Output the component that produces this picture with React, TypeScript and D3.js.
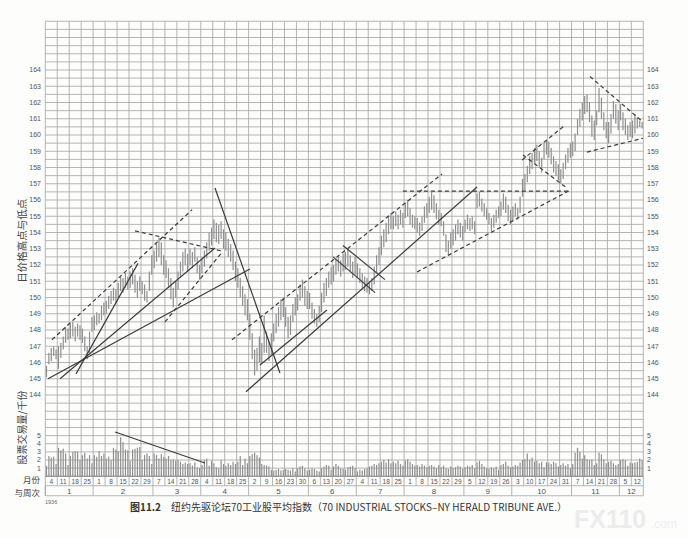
import { scaleLinear } from "d3";

// Weeks (Saturday dates) and months, 1936
const weekLabels = [
  "4", "11", "18", "25",
  "1", "8", "15", "22", "29",
  "7", "14", "21", "28",
  "4", "11", "18", "25",
  "2", "9", "16", "23", "30",
  "6", "13", "20", "27",
  "4", "11", "18", "25",
  "1", "8", "15", "22", "29",
  "5", "12", "19", "26",
  "3", "10", "17", "24", "31",
  "7", "14", "21", "28",
  "5", "12",
];
const monthLabels = ["1", "2", "3", "4", "5", "6", "7", "8", "9", "10", "11", "12"];
const weeksPerMonth = [4, 5, 4, 4, 5, 4, 4, 5, 4, 5, 4, 2];

const priceTicks = [144, 145, 146, 147, 148, 149, 150, 151, 152, 153, 154, 155, 156, 157, 158, 159, 160, 161, 162, 163, 164];
const volumeTicks = [1, 2, 3, 4, 5];

// daily highs / lows, five bars per week
const highs = [
  145.8, 146.6, 146.9, 147.0, 146.8,
  147.0, 147.2, 147.6, 148.2, 148.1,
  148.4, 148.5, 148.2, 148.4, 148.3,
  148.1, 147.6, 147.0, 147.9, 148.8,
  148.9, 149.1, 149.0, 149.5, 149.7,
  149.8, 150.1, 150.4, 150.6, 150.5,
  150.9, 151.3, 151.2, 151.5, 151.3,
  151.6, 151.8, 151.4, 151.0, 151.3,
  151.0, 150.8, 150.4, 151.6, 152.6,
  152.9, 153.3, 153.7, 153.4, 152.6,
  152.3, 151.8, 151.2, 150.6, 151.0,
  151.6, 152.2, 152.8, 153.0, 152.7,
  153.0, 152.8, 153.1, 152.5, 152.0,
  152.5, 152.9, 153.4, 154.0, 154.3,
  154.8, 154.6, 154.5, 154.7, 154.2,
  154.0, 153.6, 153.3, 152.9, 152.2,
  151.8, 151.2, 150.7, 150.2, 149.9,
  149.0, 147.8, 146.8, 146.9, 147.6,
  147.2, 148.9, 147.9, 147.3, 147.8,
  148.4, 149.0, 149.4, 149.9, 150.0,
  149.4, 148.8, 148.9, 149.6, 150.0,
  150.2, 150.8, 151.1, 150.7, 150.4,
  150.3, 149.7, 149.3, 149.0, 149.5,
  150.3, 150.9, 151.2, 151.6, 151.9,
  152.0, 152.4, 152.6, 152.3, 152.7,
  152.8, 153.0, 152.6, 152.2, 152.5,
  152.1, 151.8, 151.5, 151.3, 151.2,
  151.0, 151.2, 151.9, 152.6, 153.1,
  153.8, 154.2, 154.6, 155.0, 155.2,
  155.0, 155.3, 155.1, 155.4, 155.2,
  155.8, 156.0, 155.5, 155.1, 155.0,
  154.9, 154.6, 155.0, 155.6, 155.8,
  156.2, 156.5, 156.3, 155.8, 155.4,
  155.2, 154.7, 153.9, 153.5, 154.0,
  154.2, 154.5, 154.8, 154.6, 154.4,
  154.8, 155.1, 154.9, 155.0, 154.7,
  156.4, 156.5, 156.1, 155.8, 155.5,
  155.2, 154.9, 155.1, 155.4, 155.6,
  155.9, 156.4, 156.2, 155.7, 155.4,
  155.6, 155.8, 155.5, 156.2, 157.3,
  157.6, 158.1, 158.7, 158.9, 159.2,
  159.4, 159.0, 158.6, 159.5, 159.7,
  159.6, 159.2, 158.7, 158.4, 158.2,
  157.9, 158.3, 158.8, 159.2, 159.5,
  159.6, 160.1, 161.0, 161.6, 162.0,
  162.4, 162.5, 162.0, 161.2, 160.9,
  161.5, 162.9, 162.3, 161.4, 160.8,
  160.8, 161.3, 162.1, 161.9, 161.5,
  161.9, 161.4, 161.0, 160.6, 160.8,
  160.9, 161.3, 161.1, 160.9, 160.8,
];
const lows = [
  145.1, 145.9, 146.1, 146.4, 146.2,
  145.6, 146.3, 146.8, 147.2, 147.4,
  147.5, 147.6, 147.3, 147.6, 147.4,
  147.2, 146.7, 146.2, 146.6, 147.9,
  148.0, 148.3, 148.4, 148.6, 148.9,
  149.0, 149.3, 149.6, 149.8, 149.7,
  150.0, 150.4, 150.3, 150.6, 150.5,
  150.6, 150.8, 150.3, 150.0, 150.4,
  150.2, 149.8, 149.7, 150.4, 151.4,
  151.8, 152.2, 152.5, 152.0, 151.4,
  151.2, 150.6, 149.9, 149.4, 150.0,
  150.5, 151.2, 151.6, 152.0, 151.6,
  152.0, 151.8, 152.2, 151.5, 151.1,
  151.5, 151.9, 152.4, 152.9, 153.2,
  153.6, 153.4, 153.3, 153.6, 153.0,
  152.9, 152.5, 152.2, 151.7, 151.0,
  150.6, 150.0, 149.5, 148.9, 148.6,
  147.4, 146.2, 145.2, 145.5, 146.0,
  146.0, 146.6, 146.6, 146.1, 146.5,
  147.3, 147.8, 148.2, 148.6, 148.8,
  148.2, 147.5, 147.7, 148.5, 148.9,
  149.2, 149.8, 150.0, 149.5, 149.3,
  149.3, 148.7, 148.4, 148.2, 148.5,
  149.1, 149.7, 150.1, 150.6, 150.8,
  151.0, 151.4, 151.6, 151.3, 151.6,
  151.7, 151.9, 151.6, 151.2, 151.4,
  151.2, 150.9, 150.6, 150.4, 150.3,
  150.2, 150.4, 150.8, 151.5, 152.0,
  152.6, 153.1, 153.4, 153.9, 154.2,
  154.2, 154.4, 154.2, 154.5, 154.3,
  154.9, 155.0, 154.5, 154.3, 154.2,
  154.0, 153.8, 154.1, 154.6, 154.9,
  155.2, 155.4, 155.2, 154.8, 154.5,
  154.4, 153.8, 152.8, 152.6, 153.0,
  153.2, 153.5, 153.9, 153.7, 153.5,
  154.0, 154.2, 154.1, 154.2, 153.9,
  155.5, 155.6, 155.3, 155.0, 154.8,
  154.5, 154.1, 154.3, 154.6, 154.9,
  155.0, 155.4, 155.2, 154.7, 154.5,
  154.7, 155.0, 154.8, 155.2, 156.2,
  156.6, 157.1, 157.6, 157.9, 158.3,
  158.4, 158.0, 157.7, 158.5, 158.8,
  158.6, 158.2, 157.7, 157.5, 157.2,
  157.0, 157.3, 157.9, 158.3, 158.6,
  158.7, 159.0, 160.0, 160.5, 160.9,
  161.3, 161.4, 160.8, 159.9, 159.7,
  160.6, 161.4, 161.0, 160.3, 159.8,
  159.5, 160.1, 161.0, 160.7, 160.3,
  160.9, 160.3, 160.0, 159.7, 159.9,
  159.8, 160.1, 160.4, 160.5, 160.4,
];
// daily volume, millions of shares
const volumes = [
  1.3, 2.5, 2.3, 2.4, 1.5,
  3.5, 3.2, 3.4, 2.8, 1.4,
  2.5, 3.0, 3.1, 3.0, 2.0,
  2.6, 2.9, 2.2, 2.6, 1.6,
  2.6, 2.4, 3.1, 2.5, 2.8,
  2.2, 2.4, 2.0, 3.5, 3.3,
  3.1, 4.8, 4.2, 3.3, 3.2,
  1.9, 3.3, 3.4, 3.5, 3.6,
  2.0, 2.6, 2.8, 2.5, 1.5,
  2.8, 2.6, 2.2, 2.7, 2.4,
  2.2, 2.5, 2.0, 2.1, 1.9,
  2.0, 1.8, 1.5, 1.7, 1.5,
  1.6, 1.3, 1.7, 1.1, 1.0,
  1.4, 2.0, 2.2, 1.3, 1.9,
  1.6, 1.1, 1.0, 2.0, 1.5,
  1.3, 1.6, 1.4, 1.8, 1.5,
  1.8, 2.5, 1.4, 2.2, 1.6,
  2.5, 2.7, 2.9, 2.6, 2.3,
  1.5, 1.4, 1.3, 1.2, 0.8,
  0.7, 0.8, 0.9, 0.7, 0.8,
  0.9, 0.8, 0.7, 1.0, 0.6,
  1.0, 1.2, 1.3, 1.0, 0.7,
  0.8, 1.0, 0.9, 0.7, 0.6,
  1.0, 1.2, 1.4, 1.3, 0.8,
  1.2, 1.5, 1.3, 1.0, 0.9,
  0.8, 1.1, 1.2, 1.3, 1.0,
  0.6, 0.8, 0.7, 0.9, 1.0,
  1.2, 1.3, 1.5, 1.4, 1.6,
  1.8, 2.0, 1.7, 2.1, 1.6,
  1.8, 1.6, 1.9, 1.5, 1.3,
  1.9, 2.1, 1.8, 1.5, 1.3,
  1.4, 1.2, 1.5, 1.3, 1.1,
  1.3, 1.4, 1.2, 1.0, 1.4,
  1.1, 1.3, 1.0, 0.9, 1.2,
  1.0, 1.1, 1.3, 1.2, 0.9,
  1.1, 1.3, 1.2, 1.4, 1.0,
  1.7, 1.9, 1.5, 1.2, 1.0,
  0.9, 1.1, 1.0, 1.2, 0.8,
  1.4, 1.5, 1.8, 1.3, 1.1,
  1.2, 1.4, 1.3, 1.7, 2.0,
  2.1, 2.8, 2.0, 2.3, 1.8,
  1.9, 1.6, 1.8, 1.1, 1.7,
  1.7, 1.5, 1.8, 1.6, 1.2,
  1.4, 1.6, 1.3, 1.5, 1.0,
  1.5, 2.9, 3.5, 3.0, 2.2,
  2.6, 2.1, 2.0, 2.1, 1.4,
  1.6, 2.9, 2.7, 2.1, 1.6,
  1.8, 1.9, 1.6, 1.4, 1.5,
  2.0, 2.1, 2.0, 1.3, 1.7,
  1.6, 1.7, 1.8, 2.2, 2.0,
];

// trend lines: [week position, price] -> [week position, price]
const solidLines = [
  [0.23, 145.0, 17.11, 151.75],
  [1.23, 145.0, 14.19, 153.05],
  [2.57, 145.3, 7.75, 152.1],
  [14.19, 156.74, 19.62, 145.35],
  [16.78, 144.2, 36.1, 156.8],
  [17.95, 145.85, 23.55, 149.23],
  [24.06, 152.5, 27.57, 150.3],
  [24.89, 153.2, 28.4, 151.1],
];
const dashedLines = [
  [0.56, 147.4, 12.27, 155.4],
  [7.5, 154.1, 14.77, 152.86],
  [10.01, 148.5, 14.69, 152.7],
  [15.61, 147.4, 33.17, 157.6],
  [29.9, 156.55, 43.87, 156.55],
  [31.08, 151.57, 43.87, 156.6],
  [39.86, 158.46, 43.45, 160.6],
  [39.94, 158.77, 43.5, 156.8],
  [45.54, 163.6, 49.97, 160.8],
  [45.29, 158.95, 49.97, 159.8],
];
// volume trend line: [week position, volume] -> [week position, volume]
const volumeLine = [5.84, 5.45, 13.35, 1.63];

const W = 688;
const H = 538;
const BARS_PER_WEEK = 5;

export default function App() {
  const nWeeks = weekLabels.length;
  const x = scaleLinear().domain([0, nWeeks]).range([45.3, 643.3]);
  const y = scaleLinear().domain([139, 167]).range([476.25, 21.25]);
  const yv = (v: number) => y(139 + v * 0.5);

  const top = y(167);
  const bottom = y(139);
  const rowMid = bottom + 9.5;
  const rowEnd = bottom + 19.5;

  const hGrid: number[] = [];
  for (let p = 139; p <= 167.001; p += 0.5) hGrid.push(p);

  let acc = 0;
  const monthStarts = weeksPerMonth.map((n) => {
    const s = acc;
    acc += n;
    return s;
  });

  const grid = "#a3a3a3";
  const ink = "#3c3c3c";
  const label = "#555";
  const sans = "'Liberation Sans', Arial, sans-serif";
  const cjk = "'Noto Sans CJK SC', 'Noto Sans', sans-serif";

  return (
    <svg
      width={W}
      height={H}
      style={{ position: "absolute", left: 0, top: 0, background: "#fdfdfc" }}
    >
      {/* grid */}
      {hGrid.map((p, i) => (
        <line key={"h" + i} x1={x(0)} x2={x(nWeeks)} y1={y(p)} y2={y(p)} stroke={grid} strokeWidth={0.8} />
      ))}
      {weekLabels.map((_, i) => (
        <line key={"v" + i} x1={x(i)} x2={x(i)} y1={top} y2={i === 0 ? rowEnd : rowMid} stroke={grid} strokeWidth={0.8} />
      ))}
      <line x1={x(nWeeks)} x2={x(nWeeks)} y1={top} y2={rowEnd} stroke={grid} strokeWidth={0.8} />
      {monthStarts.map((s, i) => (
        <line key={"m" + i} x1={x(s)} x2={x(s)} y1={rowMid} y2={rowEnd} stroke={grid} strokeWidth={0.8} />
      ))}
      <line x1={x(0)} x2={x(nWeeks)} y1={bottom} y2={bottom} stroke="#888" strokeWidth={0.9} />
      <line x1={x(0)} x2={x(nWeeks)} y1={rowMid} y2={rowMid} stroke={grid} strokeWidth={0.8} />
      <line x1={x(0)} x2={x(nWeeks)} y1={rowEnd} y2={rowEnd} stroke={grid} strokeWidth={0.8} />

      {/* price bars */}
      {highs.map((h, k) => {
        const xp = x((k + 0.5) / BARS_PER_WEEK);
        return <line key={"b" + k} x1={xp} x2={xp} y1={y(h)} y2={y(lows[k])} stroke="#8f8f8f" strokeWidth={1.2} />;
      })}

      {/* volume bars */}
      {volumes.map((v, k) => {
        const xp = x((k + 0.5) / BARS_PER_WEEK);
        return <line key={"vol" + k} x1={xp} x2={xp} y1={yv(0)} y2={yv(v)} stroke="#8f8f8f" strokeWidth={1.2} />;
      })}

      {/* trend lines */}
      {solidLines.map(([t1, p1, t2, p2], i) => (
        <line key={"s" + i} x1={x(t1)} y1={y(p1)} x2={x(t2)} y2={y(p2)} stroke={ink} strokeWidth={1.2} />
      ))}
      {dashedLines.map(([t1, p1, t2, p2], i) => (
        <line key={"d" + i} x1={x(t1)} y1={y(p1)} x2={x(t2)} y2={y(p2)} stroke={ink} strokeWidth={1.2} strokeDasharray="4,3" />
      ))}
      <line x1={x(volumeLine[0])} y1={yv(volumeLine[1])} x2={x(volumeLine[2])} y2={yv(volumeLine[3])} stroke={ink} strokeWidth={1.2} />

      {/* price tick labels */}
      {priceTicks.map((p) => (
        <g key={"pt" + p} fontFamily={sans} fontSize={7} fill={label}>
          <text x={41} y={y(p)} dy="0.35em" textAnchor="end">{p}</text>
          <text x={647} y={y(p)} dy="0.35em">{p}</text>
        </g>
      ))}
      {volumeTicks.map((v) => (
        <g key={"vt" + v} fontFamily={sans} fontSize={7} fill={label}>
          <text x={41} y={yv(v)} dy="0.35em" textAnchor="end">{v}</text>
          <text x={647} y={yv(v)} dy="0.35em">{v}</text>
        </g>
      ))}

      {/* week / month labels */}
      {weekLabels.map((w, i) => (
        <text key={"wl" + i} x={x(i + 0.5)} y={bottom + 7.3} textAnchor="middle" fontFamily={sans} fontSize={6.5} fill={label}>
          {w}
        </text>
      ))}
      {monthLabels.map((m, i) => (
        <text key={"ml" + i} x={x(monthStarts[i] + weeksPerMonth[i] / 2)} y={rowMid + 8} textAnchor="middle" fontFamily={sans} fontSize={8} fill={label}>
          {m}
        </text>
      ))}

      {/* axis titles */}
      <text transform={`translate(26,${y(153.5)}) rotate(-90)`} textAnchor="middle" fontFamily={cjk} fontSize={10.5} fill="#444">
        日价格高点与低点
      </text>
      <text transform={`translate(26,${yv(6)}) rotate(-90)`} textAnchor="middle" fontFamily={cjk} fontSize={10} fill="#444">
        股票交易量/千份
      </text>
      <text x={40} y={bottom + 7} textAnchor="end" fontFamily={cjk} fontSize={8.5} fill="#444">月份</text>
      <text x={40} y={rowMid + 10.5} textAnchor="end" fontFamily={cjk} fontSize={8.5} fill="#444">与周次</text>
      <text x={45} y={rowEnd + 8} fontFamily={sans} fontSize={5.5} fill="#666">1936</text>

      {/* caption */}
      <text x={130} y={511} fontFamily={cjk} fontSize={10} fill="#333">
        <tspan fontWeight="bold">图11.2</tspan>
        <tspan dx={10}>纽约先驱论坛70工业股平均指数（70 INDUSTRIAL STOCKS–NY HERALD TRIBUNE AVE.）</tspan>
      </text>

      {/* watermark */}
      <text x={574} y={528} fontFamily={sans} fontSize={25} fontWeight="bold" fill="#ececec">FX110</text>
      <text x={651} y={528} fontFamily={sans} fontSize={12} fill="#ededed">.com</text>
    </svg>
  );
}
